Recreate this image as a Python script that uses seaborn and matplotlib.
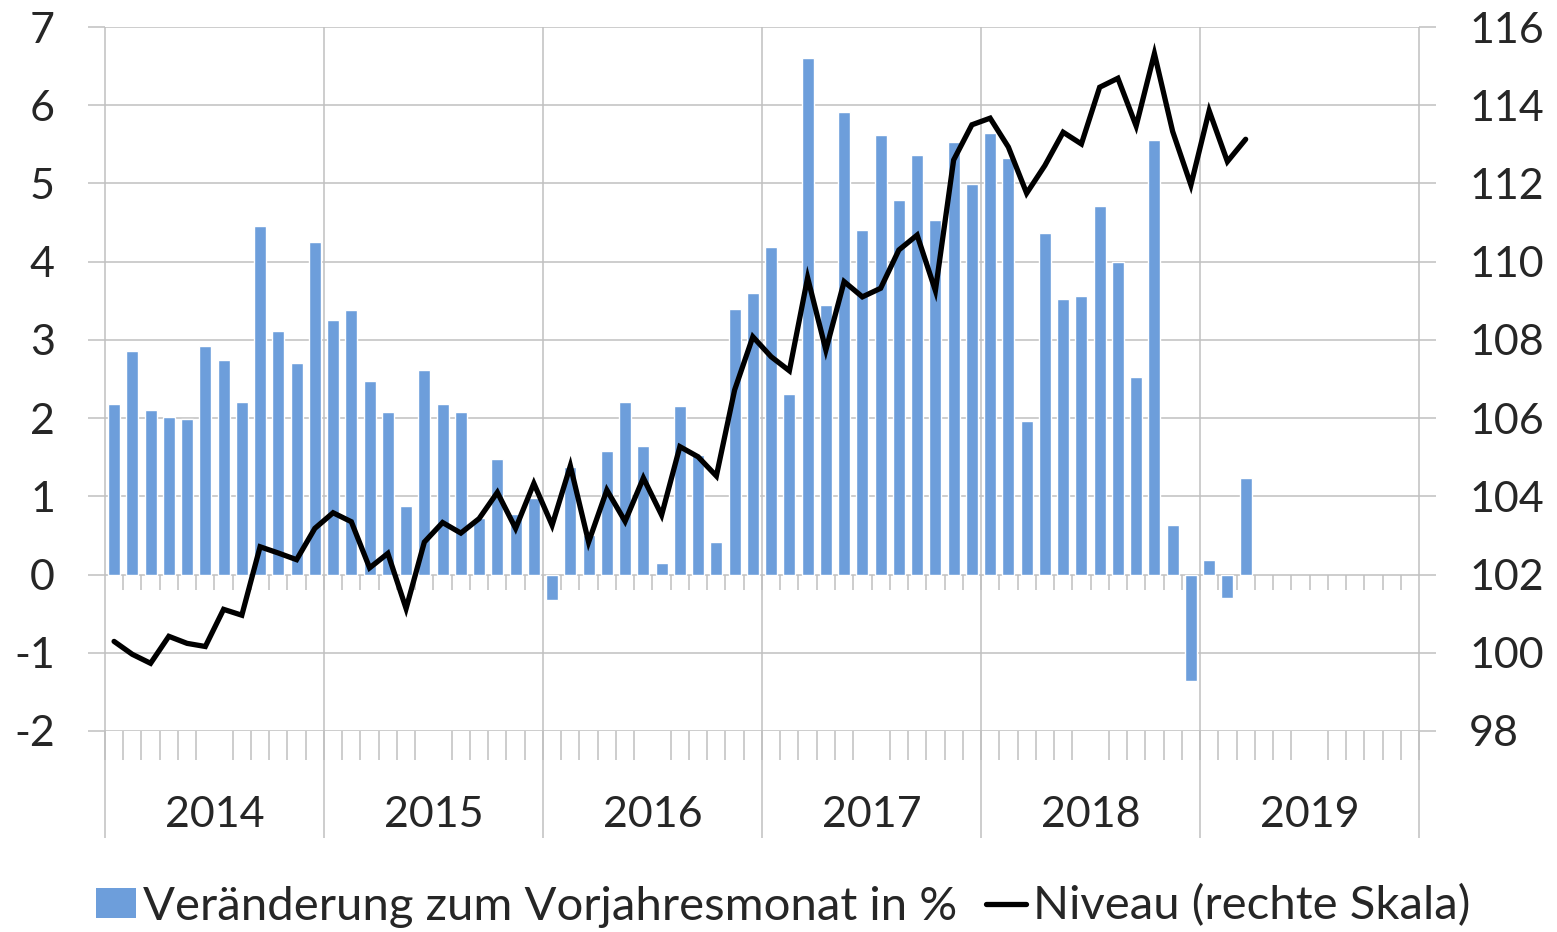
import numpy as np
import pandas as pd
import matplotlib
matplotlib.use("Agg")
import matplotlib.pyplot as plt
import seaborn as sns
from matplotlib.patches import Patch
from matplotlib.lines import Line2D

# --------------------------------------------------
# Data (monthly, Jan 2014 - Mar 2019)
# --------------------------------------------------

years = ["2014", "2015", "2016", "2017", "2018", "2019"]
months = list(pd.date_range("2014-01-01", periods=72, freq="MS").strftime("%Y-%m"))

veraenderung = [
    2.18, 2.86, 2.10, 2.02, 1.99, 2.92, 2.74, 2.20, 4.45, 3.12, 2.71, 4.25,
    3.25, 3.38, 2.47, 2.08, 0.87, 2.61, 2.18, 2.08, 0.72, 1.48, 0.78, 0.98,
    -0.32, 1.38, 0.50, 1.58, 2.20, 1.64, 0.15, 2.15, 1.53, 0.42, 3.39, 3.60,
    4.19, 2.31, 6.60, 3.44, 5.91, 4.41, 5.62, 4.79, 5.37, 4.53, 5.53, 4.99,
    5.65, 5.32, 1.96, 4.37, 3.52, 3.56, 4.71, 3.99, 2.52, 5.55, 0.63, -1.36,
    0.18, -0.30, 1.24,
]

niveau = [
    100.29, 99.96, 99.73, 100.42, 100.24, 100.16, 101.11, 100.96, 102.71, 102.55, 102.38, 103.18,
    103.58, 103.35, 102.17, 102.54, 101.13, 102.83, 103.33, 103.06, 103.43, 104.10, 103.18, 104.33,
    103.26, 104.78, 102.83, 104.16, 103.36, 104.47, 103.52, 105.27, 105.01, 104.52, 106.72, 108.08,
    107.57, 107.21, 109.59, 107.74, 109.49, 109.10, 109.32, 110.30, 110.68, 109.26, 112.60, 113.50,
    113.67, 112.93, 111.75, 112.46, 113.31, 113.01, 114.46, 114.69, 113.47, 115.32, 113.33, 111.96,
    113.86, 112.56, 113.13,
]

label_bar = "Veränderung zum Vorjahresmonat in %"
label_line = "Niveau (rechte Skala)"

df = pd.DataFrame({"monat": months[:len(veraenderung)], "veraenderung": veraenderung})
df_line = pd.DataFrame({"pos": np.arange(len(niveau)), "niveau": niveau})

# --------------------------------------------------
# Style
# --------------------------------------------------

sns.set_theme(style="white")
plt.rcParams["font.family"] = ["Lato", "DejaVu Sans"]
plt.rcParams["axes.unicode_minus"] = False
FS = 31
FS_LEG = 34
LW = 3.8
GRID = "#c0c0c0"
BLUE = "#6d9edb"

fig = plt.figure(figsize=(15.57, 9.32), dpi=100)
ax = fig.add_axes([0.0674, 0.2157, 0.8440, 0.7553])

# bars
sns.barplot(data=df, x="monat", y="veraenderung", order=months,
            color=BLUE, saturation=1, width=0.66, ax=ax, zorder=2)

ax.set_xlim(-0.5, 71.5)
ax.set_ylim(-2, 7)
ax.set_yticks(range(-2, 8))
ax.yaxis.grid(True, color=GRID, lw=1.1)
ax.set_axisbelow(True)
for s in ax.spines.values():
    s.set_visible(False)
ax.set_xlabel("")
ax.set_ylabel("")
ax.tick_params(axis="y", direction="out", length=12, width=1.1, color=GRID,
               pad=24, labelsize=FS, left=True)

# x axis: year labels and month ticks
ax.set_xticks(np.arange(5.5, 72, 12))
ax.set_xticklabels(years)
ax.set_xticks(np.arange(-0.5, 72, 1), minor=True)
ax.tick_params(axis="x", which="major", length=0, pad=47, labelsize=FS)
ax.tick_params(axis="x", which="minor", direction="out", length=21, width=1.1,
               color=GRID, bottom=True)

# year separators and month ticks at zero line
year_bounds = np.arange(-0.5, 72, 12)
ax.vlines(year_bounds, -0.152, 1, transform=ax.get_xaxis_transform(),
          color=GRID, lw=1.1, clip_on=False, zorder=1)
ax.vlines(np.arange(0.5, 71, 1), -0.2, 0, color=GRID, lw=1.1,
          clip_on=False, zorder=1)

# line on the right scale
ax2 = ax.twinx()
sns.lineplot(data=df_line, x="pos", y="niveau", color="black", ax=ax2)
for ln in ax2.lines:
    ln.set_linewidth(LW)
    ln.set_solid_joinstyle("miter")
ax2.set_ylim(98, 116)
ax2.set_yticks(range(98, 117, 2))
ax2.set_xlim(-0.5, 71.5)
for s in ax2.spines.values():
    s.set_visible(False)
ax2.set_xlabel("")
ax2.set_ylabel("")
ax2.tick_params(axis="y", direction="out", length=12, width=1.1, color=GRID,
                pad=24, labelsize=FS, right=True)

# legend
handles = [Patch(facecolor=BLUE, edgecolor="none"),
           Line2D([], [], color="black", linewidth=LW)]
fig.legend(handles, [label_bar, label_line], loc="center",
           bbox_to_anchor=(0.503, 1 - 906 / 932), ncol=2, frameon=False,
           fontsize=FS_LEG, handlelength=0.85, handleheight=0.62,
           handletextpad=0.15, columnspacing=0.6, borderpad=0)

plt.savefig("out.png", dpi=100)
